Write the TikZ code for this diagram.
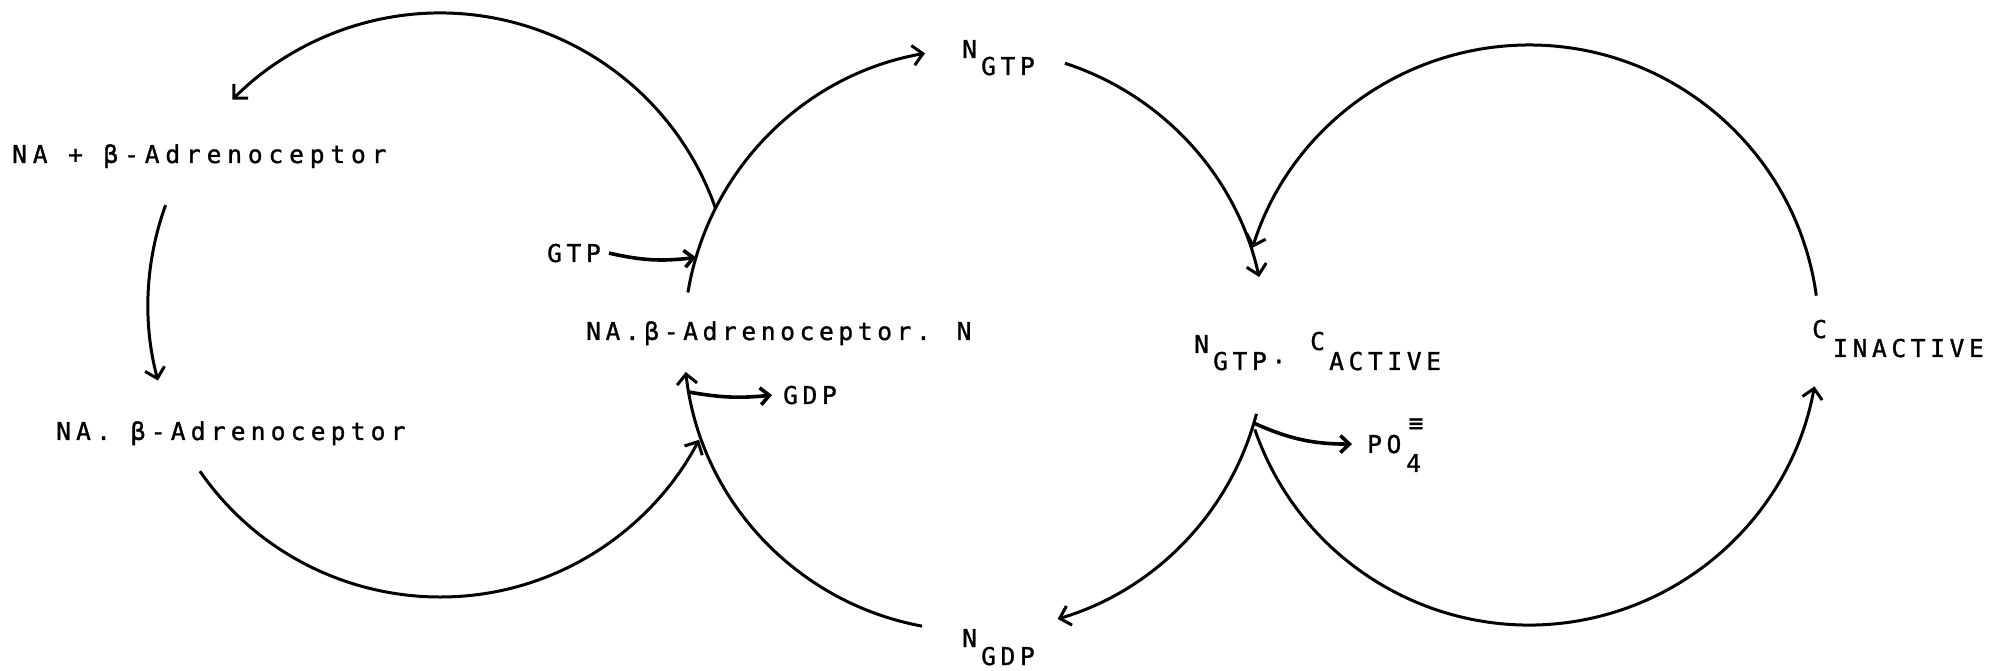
\documentclass[tikz,border=0pt]{standalone}
\usepackage{fontspec}
\newfontfamily\tw[LetterSpace=19,FakeBold=1.2]{DejaVu Sans Mono}
\newfontfamily\twb[LetterSpace=24,FakeBold=1.2]{DejaVu Sans Mono}
\newfontfamily\twc[LetterSpace=21.4,FakeBold=1.2]{DejaVu Sans Mono}
\newcommand\twfont{\tw\fontsize{24.5}{26}\selectfont\spaceskip=19.4pt\relax}
\newcommand\twbfont{\twb\fontsize{24.5}{26}\selectfont\spaceskip=20.6pt\relax}
\newcommand\twcfont{\twc\fontsize{24.5}{26}\selectfont\spaceskip=19.9pt\relax}
\usetikzlibrary{arrows.meta,calc}
\begin{document}
\begin{tikzpicture}[x=1pt,y=1pt,
  lbl/.style={inner sep=0pt, anchor=base west, font=\twfont},
  cyc/.style={line width=3pt, -{Straight Barb[length=10pt,width=20pt]}},
  sm/.style={line width=3.6pt, -{Straight Barb[length=9pt,width=17pt]}},
]
\useasboundingbox (0,0) rectangle (1990,670);
% cycle centres
\coordinate (c1) at (440,365);
\coordinate (c2) at (975,330);
\coordinate (c3) at (1529,335);

% labels
\node[lbl, font=\twbfont] (nab)   at (12,507)  {NA + β-Adrenoceptor};
\node[lbl, font=\twcfont] (nadot) at (56,230)  {NA. β-Adrenoceptor};
\node[lbl] (nabn)  at (586,330) {NA.β-Adrenoceptor. N};
\node[lbl] (gtp)   at (547,408) {GTP};
\node[lbl] (gdp)   at (783,266) {GDP};
\node[lbl] (ntN)   at (962,612) {N};
\node[lbl] (ntS)   at (981,595) {GTP};
\node[lbl] (ndN)   at (962,23)  {N};
\node[lbl] (ndS)   at (981,5)   {GDP};
\node[lbl] (ncN)   at (1194,317) {N};
\node[lbl] (ncS)   at (1213,300) {GTP·};
\node[lbl] (ncC)   at (1310,320) {C};
\node[lbl] (ncA)   at (1329,300) {ACTIVE};
\node[lbl] (ciC)   at (1812,332) {C};
\node[lbl] (ciS)   at (1833,313) {INACTIVE};
\node[lbl] (po)    at (1367,217) {PO};
\node[lbl] (po4)   at (1406,198) {4};
\node[inner sep=0pt, font=\twfont] (poq) at (1416,245) {≡};

% arc end points
\coordinate (a1s) at ($(c1)+(19.4:292)$);
\coordinate (a2s) at ($(c1)+(160:292)$);
\coordinate (a3s) at ($(c1)+(214.7:292)$);
\coordinate (b1s) at ($(c2)+(170.6:291)$);
\coordinate (b2s) at ($(c2)+(72:291)$);
\coordinate (b3s) at ($(c2)+(-14.7:291)$);
\coordinate (b4s) at ($(c2)+(259.5:291)$);
\coordinate (d1s) at ($(c3)+(7.8:290)$);
\coordinate (d2s) at ($(c3)+(199:290)$);
\coordinate (gtptip) at ($(c2)+(163.5:291)$);
\coordinate (gdps)   at ($(c2)+(190.3:291)$);
\coordinate (pos)    at ($(c2)+(-16.6:291)$);

% left cycle
\draw[cyc] (a1s) arc[start angle=19.4, end angle=135.3, radius=292];
\draw[cyc] (a2s) arc[start angle=160, end angle=195, radius=292];
\draw[cyc] (a3s) arc[start angle=214.7, end angle=332.5, radius=292];
% middle cycle
\draw[cyc] (b1s) arc[start angle=170.6, end angle=99.9, radius=291];
\draw[cyc] (b2s) arc[start angle=72, end angle=12.5, radius=291];
\draw[cyc] (b3s) arc[start angle=-14.7, end angle=-73.5, radius=291];
\draw[cyc] (b4s) arc[start angle=259.5, end angle=186.3, radius=291];
% right cycle
\draw[cyc] (d1s) arc[start angle=7.8, end angle=162.5, radius=290];
\draw[cyc] (d2s) arc[start angle=199, end angle=349.8, radius=290];

% side arrows
\draw[sm] ([xshift=8pt]gtp.east) to[bend right=10] (gtptip);
\draw[sm] (gdps) to[bend right=8] ([xshift=-11pt]gdp.west);
\draw[sm] (pos) to[bend right=12] ([xshift=-15pt]po.west);
\end{tikzpicture}
\end{document}
